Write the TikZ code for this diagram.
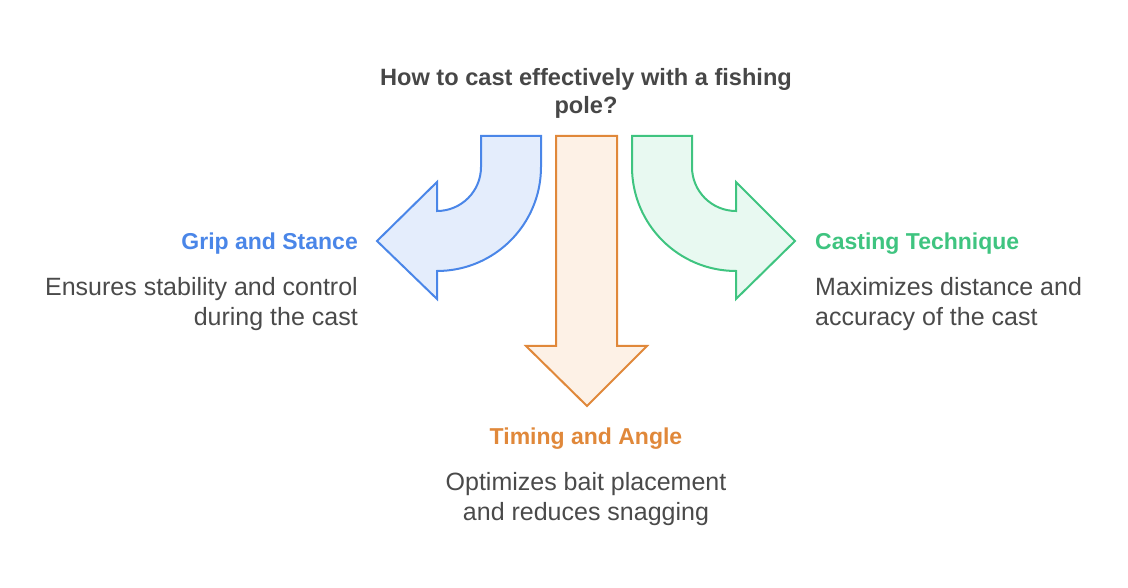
\documentclass[tikz,border=0pt]{standalone}
\usepackage{fontspec}
\setmainfont{Liberation Sans}
\definecolor{bluestroke}{HTML}{4A86E8}
\definecolor{bluefill}{HTML}{E4EDFC}
\definecolor{orangestroke}{HTML}{E0883A}
\definecolor{orangefill}{HTML}{FDF1E6}
\definecolor{greenstroke}{HTML}{3FC480}
\definecolor{greenfill}{HTML}{E8F9F1}
\definecolor{titlegray}{HTML}{474747}
\definecolor{descgray}{HTML}{4A4A4A}
\tikzset{
  arrowshape/.style={line width=2pt, line join=miter},
  titletext/.style={font=\fontsize{23.6}{28}\selectfont\bfseries, text=titlegray, align=center, inner sep=0pt},
  headtext/.style={font=\fontsize{23}{26}\selectfont\bfseries, inner sep=0pt},
  desctext/.style={font=\fontsize{25}{30}\selectfont, text=descgray, inner sep=0pt},
}
\begin{document}
\begin{tikzpicture}[x=1pt,y=1pt]
\useasboundingbox (0,0) rectangle (1128,588);
% left arrow
\draw[arrowshape, draw=bluestroke, fill=bluefill]
  (481,452) -- (541,452) -- (541,421) arc[start angle=0, end angle=-90, radius=104pt]
  -- (437,289) -- (377,347) -- (437,406) -- (437,377)
  arc[start angle=-90, end angle=0, radius=44pt] -- cycle;
% middle arrow
\draw[arrowshape, draw=orangestroke, fill=orangefill]
  (556,452) -- (617,452) -- (617,242) -- (647,242) -- (587,182) -- (526,242) -- (556,242) -- cycle;
% right arrow
\draw[arrowshape, draw=greenstroke, fill=greenfill]
  (632,452) -- (692,452) -- (692,421) arc[start angle=180, end angle=270, radius=44pt]
  -- (736,406) -- (795,347) -- (736,289) -- (736,317)
  arc[start angle=270, end angle=180, radius=104pt] -- cycle;
% title
\node[titletext, anchor=base] (title) at (586,474) {How to cast effectively with a fishing\\pole?};
% left
\node[headtext, text=bluestroke, anchor=base east] (griphead) at (358,338) {Grip and Stance};
\node[desctext, align=right, anchor=base east] (gripdesc) at (358,262) {Ensures stability and control\\during the cast};
% right
\node[headtext, text=greenstroke, anchor=base west] (casthead) at (815,338) {Casting Technique};
\node[desctext, align=left, anchor=base west] (castdesc) at (815,262) {Maximizes distance and\\accuracy of the cast};
% bottom
\node[headtext, text=orangestroke, anchor=base] (timehead) at (586,143) {Timing and Angle};
\node[desctext, align=center, anchor=base] (timedesc) at (586,67) {Optimizes bait placement\\and reduces snagging};
\end{tikzpicture}
\end{document}
